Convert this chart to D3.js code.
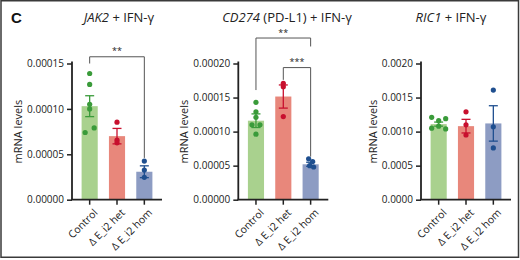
<!DOCTYPE html>
<html><head><meta charset="utf-8">
<script src="https://cdn.jsdelivr.net/npm/d3@7"></script>
<style>body{margin:0;background:#fff}svg{display:block}</style>
</head><body>
<svg id="c" width="520" height="260"></svg>
<script>
const categories = ["Control", "\u0394 E_i2 het", "\u0394 E_i2 hom"];

// Panel 1: JAK2
const jak2Points = [
  [0.000139, 0.000127, 0.000105, 0.000100, 0.000074, 0.000079],
  [0.0000854, 0.0000656, 0.0000626],
  [0.0000425, 0.0000326, 0.0000246]
];
const jak2Mean = [0.000103, 0.0000700, 0.0000308];
const jak2Sem = [0.0000115, 0.0000085, 0.0000065];
const jak2Ticks = [0, 0.00005, 0.00010, 0.00015];
const jak2TickLabels = ["0.00000", "0.00005", "0.00010", "0.00015"];

// Panel 2: CD274
const cd274Points = [
  [0.000143, 0.000129, 0.000121, 0.000110, 0.000110, 0.0000962],
  [0.000171, 0.000166, 0.000122],
  [0.0000600, 0.0000560, 0.0000500, 0.0000480]
];
const cd274Mean = [0.000116, 0.0001515, 0.0000520];
const cd274Sem = [0.0000100, 0.0000170, 0.0000030];
const cd274Ticks = [0, 0.00005, 0.00010, 0.00015, 0.00020];
const cd274TickLabels = ["0.00000", "0.00005", "0.00010", "0.00015", "0.00020"];

// Panel 3: RIC1
const ric1Points = [
  [0.00121, 0.00119, 0.00116, 0.00108, 0.00105, 0.00104],
  [0.00129, 0.00110, 0.00095],
  [0.00161, 0.00107, 0.00076]
];
const ric1Mean = [0.00111, 0.00108, 0.00112];
const ric1Sem = [0.00003, 0.00010, 0.00026];
const ric1Ticks = [0, 0.0005, 0.0010, 0.0015, 0.0020];
const ric1TickLabels = ["0.0000", "0.0005", "0.0010", "0.0015", "0.0020"];

// significance brackets: [fromIdx, toIdx, label, lineValue, leftLegEnd, rightLegEnd]
const jak2Sig = [[0, 2, "**", 0.0001574, 0.000150, 0.000046]];
const cd274Sig = [
  [0, 2, "**", 0.0002374, 0.000161, 0.000225],
  [1, 2, "***", 0.000194, 0.000176, 0.0000632]
];
const ric1Sig = [];

const barColors = ["#a9d18e", "#e8877b", "#8d9cc3"];
const dotColors = ["#3a9b3a", "#c8102e", "#1f4f8f"];
const FONT = "'Open Sans', 'Noto Sans', sans-serif";

const svg = d3.select("#c");
svg.append("rect").attr("x", 1).attr("y", 0.75).attr("width", 517.5).attr("height", 256.5)
  .attr("fill", "none").attr("stroke", "#3a3a3a").attr("stroke-width", 1.5);

svg.append("text").attr("x", 11).attr("y", 23).text("C")
  .attr("font-family", "'Liberation Sans', Arial, sans-serif").attr("font-weight", "bold")
  .attr("font-size", 15).attr("fill", "#111");

const panels = [
  {ax: 72, max: 0.00015, pts: jak2Points, mean: jak2Mean, sem: jak2Sem, ticks: jak2Ticks, tl: jak2TickLabels, sig: jak2Sig,
   title: [["JAK2", true], [" + IFN-\u03b3", false]], tx: 119, ylx: 14,
   jit: [[0,0,0,0,-4.5,4.5],[0,0,0],[0,0,0]]},
  {ax: 238.3, max: 0.0002, pts: cd274Points, mean: cd274Mean, sem: cd274Sem, ticks: cd274Ticks, tl: cd274TickLabels, sig: cd274Sig,
   title: [["CD274", true], [" (PD-L1) + IFN-\u03b3", false]], tx: 287, ylx: 180,
   jit: [[0,0,0,-4,4,0],[0,0,0],[-2,2,-1,3]]},
  {ax: 421, max: 0.002, pts: ric1Points, mean: ric1Mean, sem: ric1Sem, ticks: ric1Ticks, tl: ric1TickLabels, sig: ric1Sig,
   title: [["RIC1", true], [" + IFN-\u03b3", false]], tx: 451, ylx: 369,
   jit: [[-7,7,0,0,-7,7],[0,0,0],[0,0,0]]}
];

const Y0 = 199.7, Y1 = 63.5;

panels.forEach(p => {
  const g = svg.append("g");
  const y = d3.scaleLinear().domain([0, p.max]).range([Y0, Y1]);
  const x = d3.scaleBand().domain(categories).range([p.ax + 4, p.ax + 86])
    .paddingInner(0.41).paddingOuter(0.205);
  const cx = i => x(categories[i]) + x.bandwidth() / 2;

  // title
  const t = g.append("text").attr("x", p.tx).attr("y", 22).attr("text-anchor", "middle")
    .attr("font-family", FONT).attr("font-size", 13).attr("fill", "#222");
  p.title.forEach(([s, it]) => t.append("tspan").text(s).attr("font-style", it ? "italic" : "normal"));

  // y label
  g.append("text").attr("transform", `translate(${p.ylx + 8},${(Y0 + Y1) / 2}) rotate(-90)`)
    .attr("text-anchor", "middle").attr("font-family", FONT).attr("font-size", 11).attr("fill", "#222")
    .text("mRNA levels");

  // bars
  g.selectAll(".bar").data(p.mean).join("rect")
    .attr("x", (d, i) => x(categories[i])).attr("width", x.bandwidth())
    .attr("y", d => y(d)).attr("height", d => Y0 - y(d))
    .attr("fill", (d, i) => barColors[i]);

  // points
  p.pts.forEach((arr, i) => {
    g.selectAll(null).data(arr).join("circle")
      .attr("cx", (d, k) => cx(i) + (p.jit[i][k] || 0)).attr("cy", d => y(d)).attr("r", 2.6)
      .attr("fill", dotColors[i]);
  });

  // error bars
  p.mean.forEach((m, i) => {
    const c = cx(i), hi = y(m + p.sem[i]), lo = y(m - p.sem[i]);
    const eg = g.append("g").attr("stroke", dotColors[i]).attr("stroke-width", 1.3);
    eg.append("line").attr("x1", c).attr("x2", c).attr("y1", hi).attr("y2", lo);
    eg.append("line").attr("x1", c - 4.5).attr("x2", c + 4.5).attr("y1", hi).attr("y2", hi);
    eg.append("line").attr("x1", c - 4.5).attr("x2", c + 4.5).attr("y1", lo).attr("y2", lo);
  });

  // y axis
  const ya = d3.axisLeft(y).tickValues(p.ticks).tickFormat((d, i) => p.tl[i]).tickSize(5).tickPadding(3);
  const yg = g.append("g").attr("transform", `translate(${p.ax},0)`).call(ya);
  yg.select(".domain").attr("d", `M0,${Y1 - 2}V${Y0}`).attr("stroke", "#222").attr("stroke-width", 1.8);
  yg.selectAll(".tick line").attr("stroke", "#222").attr("stroke-width", 1.5);
  yg.selectAll(".tick text").attr("font-family", FONT).attr("font-size", 10).attr("fill", "#222");

  // x axis
  const xa = d3.axisBottom(x).tickSize(5).tickPadding(3);
  const xg = g.append("g").attr("transform", `translate(0,${Y0})`).call(xa);
  xg.select(".domain").attr("d", `M${p.ax - 1},0H${p.ax + 90}`).attr("stroke", "#222").attr("stroke-width", 1.8);
  xg.selectAll(".tick line").attr("stroke", "#222").attr("stroke-width", 1.5);
  xg.selectAll(".tick text").attr("font-family", FONT).attr("font-size", 10.5).attr("fill", "#222")
    .attr("text-anchor", "end").attr("dy", 0).attr("transform", "translate(3,8) rotate(-45)");

  // significance brackets
  p.sig.forEach(([a, b, lab, lv, l1, l2]) => {
    const xa1 = cx(a), xb = cx(b), yl = y(lv);
    g.append("path").attr("d", `M${xa1},${y(l1)}V${yl}H${xb}V${y(l2)}`)
      .attr("fill", "none").attr("stroke", "#555").attr("stroke-width", 1);
    g.append("text").attr("x", (xa1 + xb) / 2).attr("y", yl - 2.5).attr("text-anchor", "middle")
      .attr("font-family", FONT).attr("font-size", 9).attr("fill", "#222").text(lab);
  });
});
</script>
</body></html>
